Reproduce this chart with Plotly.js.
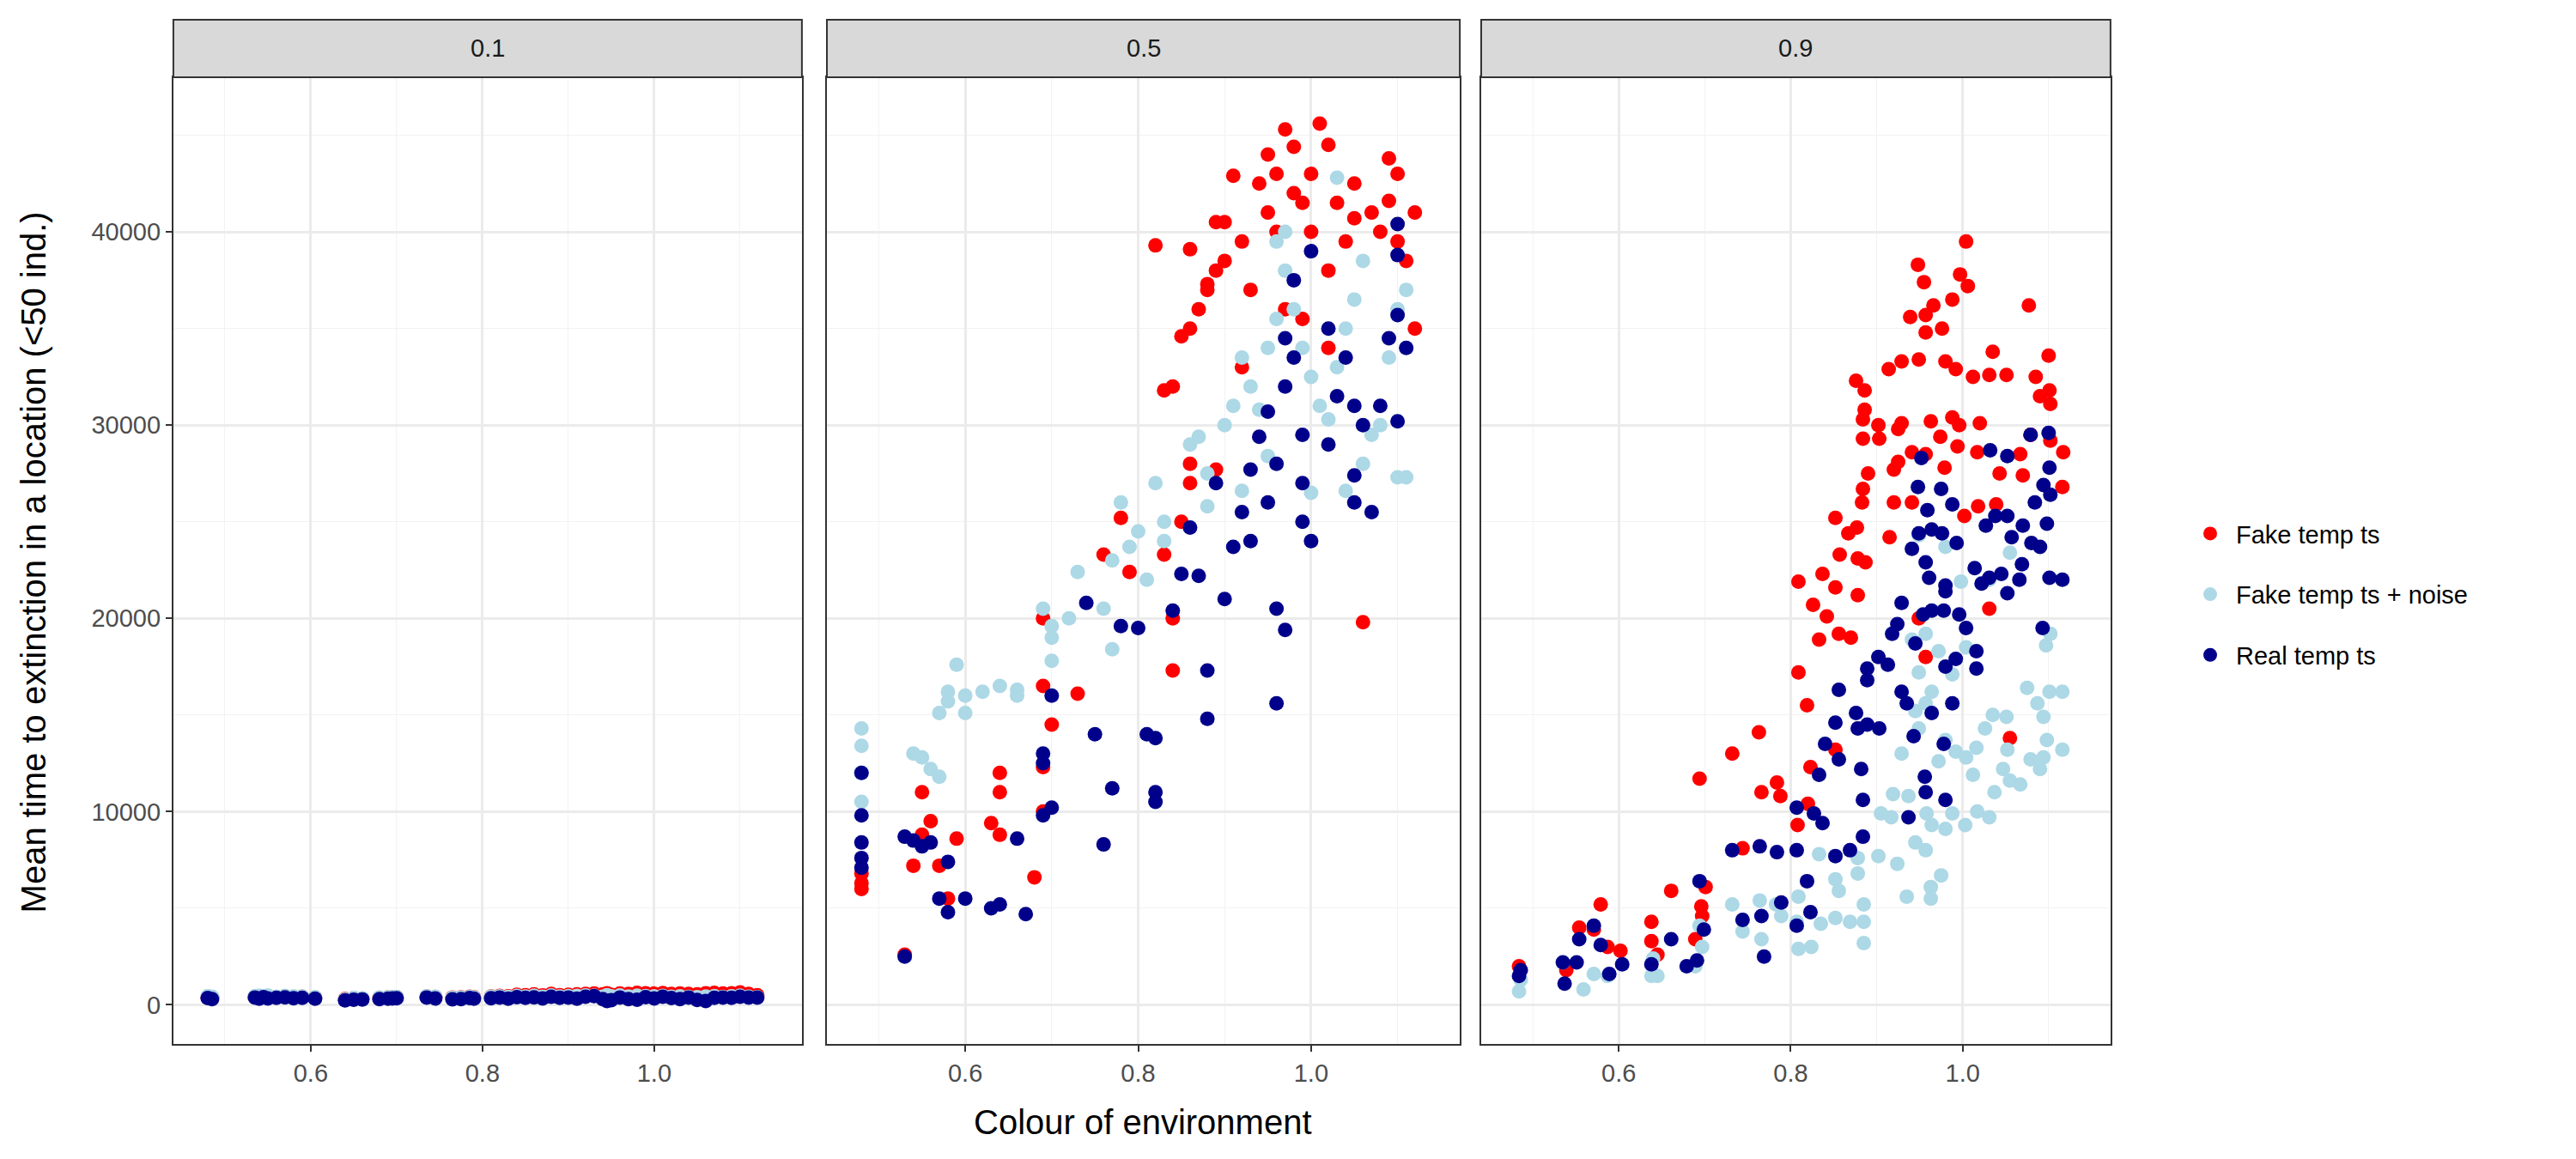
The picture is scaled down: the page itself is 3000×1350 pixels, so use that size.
<!DOCTYPE html>
<html>
<head>
<meta charset="utf-8">
<script src="https://cdn.plot.ly/plotly-3.0.1.min.js"></script>
<style>html,body{margin:0;padding:0;background:#fff}</style>
</head>
<body>
<div id="chart" style="width:3000px;height:1350px"></div>
<script>
// facet labels and series names
const panels = ["0.1", "0.5", "0.9"];
const seriesNames = ["Fake temp ts", "Fake temp ts + noise", "Real temp ts"];
const seriesColors = ["#ff0000", "#add8e6", "#00008b"];

// panel 0.1 : everything sits just above zero
const x01 = [0.48,0.485,0.535,0.54,0.545,0.55,0.56,0.57,0.58,0.59,0.605,0.64,0.65,0.66,0.68,0.69,0.695,0.7,0.735,0.745,0.765,0.775,0.785,0.79,0.81,0.82,0.83,0.84,0.85,0.86,0.87,0.88,0.89,0.9,0.91,0.92,0.93,0.94,0.945,0.95,0.96,0.97,0.98,0.99,1.0,1.01,1.02,1.03,1.04,1.05,1.06,1.07,1.08,1.09,1.1,1.11,1.12];
const fake01 = [380,400,420,430,410,440,400,430,410,420,380,300,340,320,360,390,380,400,430,410,380,390,420,400,430,460,440,520,500,540,480,560,500,520,540,560,580,540,600,520,590,560,620,600,580,610,560,590,560,540,600,620,580,600,640,560,500];
const noise01 = [450,420,450,470,430,480,420,460,440,430,400,280,360,340,380,400,390,410,440,420,360,380,410,390,420,440,410,460,430,470,420,480,430,450,460,480,470,420,500,440,480,430,470,450,440,460,420,440,410,400,430,450,410,440,470,420,400];
const real01 = [350,300,380,320,400,330,360,390,340,360,320,230,260,280,300,320,330,340,380,330,290,300,350,320,340,380,320,400,360,390,330,420,360,380,320,420,450,300,200,240,380,300,260,400,330,420,350,300,380,250,200,360,380,360,420,380,380];

// panel 0.5
const xFake05 = [0.48,0.48,0.48,0.53,0.54,0.55,0.55,0.56,0.57,0.58,0.59,0.63,0.64,0.64,0.64,0.68,0.69,0.69,0.69,0.7,0.69,0.73,0.76,0.78,0.79,0.84,0.84,0.83,0.85,0.86,0.86,0.89,0.82,0.86,0.83,0.84,0.85,0.86,0.87,0.88,0.88,0.89,0.9,0.89,0.9,0.91,0.92,0.94,0.95,0.96,0.97,0.95,0.96,0.98,0.98,0.99,1.0,1.01,1.02,1.0,1.02,1.03,1.04,1.05,1.05,1.07,1.08,1.09,1.09,1.1,1.11,1.12,1.1,1.12,1.06,0.93,0.97,0.92,0.99,1.02];
const yFake05 = [6000,6300,6800,2600,7200,8800,11000,9500,7200,5500,8600,9400,12000,11000,8800,6600,12300,10000,16500,14500,20000,16100,23300,25200,22400,17300,20000,23300,25000,28000,27000,27700,39300,39100,31800,32000,34600,35000,36000,37300,37000,38000,38500,40500,40500,42900,39500,42500,44000,43000,45300,41000,40000,44400,42000,41500,43000,45600,44500,40000,38000,41500,39500,40700,42500,41000,40000,41600,43800,43000,38500,41000,39500,35000,19800,37000,36000,33000,35500,34000];
const xNoise05 = [0.48,0.48,0.48,0.48,0.54,0.55,0.56,0.57,0.57,0.58,0.58,0.59,0.6,0.6,0.62,0.64,0.66,0.66,0.7,0.7,0.7,0.69,0.73,0.72,0.77,0.76,0.78,0.77,0.79,0.8,0.81,0.82,0.83,0.83,0.86,0.87,0.88,0.88,0.9,0.91,0.92,0.93,0.94,0.95,0.96,0.97,0.98,0.96,0.97,0.99,1.0,1.01,1.02,1.03,1.04,1.05,1.06,1.07,1.08,1.09,1.1,1.11,1.1,1.11,1.03,1.06,0.92,0.95,1.0,1.04];
const yNoise05 = [14300,13400,10500,12000,13000,12800,12200,11800,15100,15700,16200,17600,16000,15100,16200,16500,16000,16300,19600,19000,17800,20500,22400,20000,18400,20500,26000,23000,23700,24500,22000,27000,24000,25000,29000,29400,27500,25800,30000,31000,33500,32000,30800,34000,35500,38000,36000,39500,40000,34000,32500,31000,30300,33000,35000,36500,28000,29500,30000,33500,36000,37000,27300,27300,42800,38500,26600,28400,26500,26600];
const xReal05 = [0.48,0.48,0.48,0.48,0.48,0.53,0.53,0.54,0.55,0.56,0.57,0.58,0.58,0.6,0.63,0.64,0.66,0.67,0.69,0.69,0.7,0.69,0.7,0.75,0.76,0.77,0.74,0.78,0.8,0.81,0.82,0.82,0.82,0.84,0.85,0.86,0.87,0.88,0.88,0.9,0.89,0.91,0.92,0.93,0.93,0.94,0.95,0.95,0.96,0.96,0.96,0.97,0.97,0.98,0.99,0.99,1.0,0.97,1.02,1.03,1.04,1.05,1.05,1.06,1.07,1.08,1.09,1.1,1.1,1.11,1.1,1.1,1.0,1.02,0.98,0.99,1.05];
const yReal05 = [12000,9800,8400,7600,7100,2500,8700,8500,8200,8400,5500,7400,4800,5500,5000,5200,8600,4700,9800,12500,10200,13000,16000,14000,8300,11200,20800,19600,19500,14000,11000,10500,13800,20400,22300,24700,22200,17300,14800,21000,27000,23700,25500,27700,24000,29400,30700,26000,28000,20500,15600,32000,34500,33500,27000,25000,24000,19400,29000,31500,33500,27400,26000,30000,25500,31000,34500,35700,30200,34000,40400,38800,39000,35000,37500,29500,31000];

// panel 0.9
const xFake09 = [1.004,0.948,0.955,0.997,1.006,1.077,0.939,0.957,0.988,0.966,0.957,0.976,0.914,0.929,0.949,0.98,0.992,1.012,1.031,1.051,1.035,1.1,1.085,1.101,1.102,1.09,0.876,0.886,0.886,0.884,0.902,0.925,0.929,0.963,0.988,0.996,1.02,0.974,0.994,1.017,1.043,1.067,1.102,1.117,1.116,1.07,1.079,0.884,0.903,0.92,0.925,0.941,0.957,0.979,0.89,0.884,0.883,0.92,0.941,1.002,1.018,1.039,0.915,0.852,0.867,0.877,0.857,0.878,0.887,0.878,0.852,0.809,0.837,0.826,0.842,0.856,0.87,0.833,0.809,0.819,0.763,0.732,0.694,0.784,0.766,0.788,0.823,0.82,0.808,0.744,0.852,1.055,0.949,0.957,1.031,0.579,0.554,0.571,0.638,0.661,0.701,0.696,0.638,0.602,0.484,0.539,0.697,0.689,0.587,0.645];
const yFake09 = [39500,38300,37400,37800,37200,36200,35600,35700,36500,36200,34800,35000,32900,33300,33400,33300,32900,32500,32600,32600,33800,33600,32500,31800,31100,31500,32300,31800,30800,30300,30000,29800,30100,30200,30400,30000,30100,29400,28900,28600,27500,28500,29200,28600,26800,27400,29500,29300,29300,27700,28100,28600,28500,27800,27500,26700,26000,26000,26000,25300,25800,25900,24200,25200,24400,24700,23300,23100,22900,21200,21600,21900,22300,20700,20100,19200,19000,18900,17200,15500,14100,13000,11700,11500,11000,10800,12300,10400,9300,8100,13200,13800,20000,18000,20500,5200,4000,3900,4300,5900,6100,5100,3300,2800,2000,1800,4600,3400,3000,2600];
const xNoise09 = [0.484,0.486,0.535,0.559,0.571,0.587,0.638,0.645,0.64,0.689,0.697,0.694,0.732,0.744,0.764,0.766,0.783,0.789,0.809,0.809,0.824,0.807,0.835,0.833,0.852,0.856,0.852,0.869,0.885,0.885,0.885,0.878,0.878,0.902,0.924,0.919,0.935,0.945,0.957,0.963,0.963,0.975,0.958,0.964,0.98,0.988,1.003,1.017,1.031,0.992,1.004,1.012,1.016,1.026,1.035,1.051,1.052,1.047,1.055,1.067,1.079,1.09,1.094,1.098,1.094,1.101,1.116,1.075,1.087,1.097,1.102,1.116,1.037,0.949,0.929,0.945,0.957,0.964,0.949,0.941,0.957,0.972,0.988,1.004,0.949,0.98,1.055,0.998,1.031,0.917,0.905,0.937,0.972,0.98];
const yNoise09 = [700,1300,2200,800,1600,1500,1500,1500,2400,2000,3000,4100,5200,3800,5400,3400,5200,4600,5600,2900,3000,4300,4200,7800,6500,5900,4500,4300,5200,4300,3200,6800,7600,7700,7300,10900,5600,8400,8000,6100,5500,6700,9900,9300,9100,9900,9300,10000,9700,13100,12800,11900,13300,14300,15000,14900,13200,12200,11600,11400,12700,12200,12800,13700,14900,16200,16200,16400,15600,18600,19200,13200,11000,14300,13000,15200,15600,16200,17200,18900,19200,18300,17100,18500,24300,23700,23400,21900,22000,9700,9900,10800,12600,13700];
const xReal09 = [0.484,0.486,0.535,0.537,0.551,0.554,0.571,0.579,0.589,0.604,0.638,0.661,0.679,0.691,0.694,0.699,0.732,0.744,0.764,0.766,0.769,0.784,0.789,0.807,0.807,0.807,0.819,0.823,0.827,0.837,0.833,0.852,0.856,0.852,0.84,0.856,0.876,0.878,0.882,0.884,0.884,0.869,0.889,0.889,0.889,0.902,0.903,0.913,0.918,0.924,0.929,0.929,0.935,0.943,0.945,0.954,0.964,0.978,0.98,0.996,1.004,0.992,0.98,0.964,0.988,0.956,0.957,0.937,0.978,0.98,0.941,0.949,0.964,0.976,0.993,0.957,0.961,0.98,0.948,0.959,0.975,0.988,0.952,1.032,1.052,1.027,1.038,1.052,1.057,1.014,1.022,1.045,1.069,1.066,1.052,1.079,1.1,1.101,1.094,1.084,1.102,1.07,1.098,1.09,1.08,1.101,1.116,1.093,1.016,1.016,1.031];
const yReal09 = [1500,1800,2200,1100,2200,3400,4100,3100,1600,2100,2100,3400,2000,2300,6400,3900,8000,4400,8200,4600,2500,7900,5300,10200,8000,4100,6400,4800,9900,9400,11900,7700,16300,14600,13500,12700,15100,14300,12200,10600,8700,8000,14500,17400,16800,18000,14300,17600,19200,19700,20800,16200,15600,13900,18700,20200,20400,20400,21400,20200,19500,17900,17500,15100,15600,11800,11000,9700,13500,10600,23600,24400,24600,24400,23900,22900,22100,21700,26800,25600,26700,25900,28300,28700,28400,24800,25300,25300,24200,22600,21800,22300,22800,22000,21300,29500,29600,27800,26900,26000,26400,24800,24900,23700,23900,22100,22000,19500,18300,17400,22100];

const panelData = [
  [[x01, fake01], [x01, noise01], [x01, real01]],
  [[xFake05, yFake05], [xNoise05, yNoise05], [xReal05, yReal05]],
  [[xFake09, yFake09], [xNoise09, yNoise09], [xReal09, yReal09]]
];

const domains = [[0.0673, 0.3113], [0.321, 0.5667], [0.575, 0.8193]];
const yDom = [0.099, 0.9333];
const font = "Liberation Sans, Arial, sans-serif";

const traces = [];
panelData.forEach((series, p) => {
  series.forEach((s, k) => {
    traces.push({
      type: "scatter", mode: "markers",
      x: s[0], y: s[1],
      xaxis: p === 0 ? "x" : "x" + (p + 1),
      yaxis: p === 0 ? "y" : "y" + (p + 1),
      name: seriesNames[k],
      legendgroup: seriesNames[k],
      showlegend: p === 0,
      marker: { color: seriesColors[k], size: 17, line: { width: 0 } }
    });
  });
});

const layout = {
  width: 3000, height: 1350,
  margin: { l: 0, r: 0, t: 0, b: 0 },
  paper_bgcolor: "#fff", plot_bgcolor: "#fff",
  font: { family: font, color: "#4d4d4d", size: 29 },
  legend: {
    x: 0.848, y: 0.487, xanchor: "left", yanchor: "middle",
    font: { size: 29, color: "#000" }, tracegroupgap: 30, itemwidth: 50
  },
  shapes: [],
  annotations: [
    { text: "Colour of environment", xref: "paper", yref: "paper", x: 0.4438, y: 0.032, xanchor: "center", yanchor: "middle", showarrow: false, font: { size: 40, color: "#000" } },
    { text: "Mean time to extinction in a location (<50 ind.)", xref: "paper", yref: "paper", x: 0.013, y: 0.5145, textangle: -90, xanchor: "center", yanchor: "middle", showarrow: false, font: { size: 40, color: "#000" } }
  ]
};

domains.forEach((d, p) => {
  const sfx = p === 0 ? "" : String(p + 1);
  layout["xaxis" + sfx] = {
    domain: d, range: [0.44, 1.172], anchor: "y" + sfx,
    tickvals: [0.6, 0.8, 1.0], ticktext: ["0.6", "0.8", "1.0"],
    showgrid: true, gridcolor: "#ebebeb", gridwidth: 2.5,
    minor: { tickvals: [0.5, 0.7, 0.9, 1.1], showgrid: true, gridcolor: "#f2f2f2", gridwidth: 1.3, ticks: "" },
    ticks: "outside", ticklen: 7, tickwidth: 2, tickcolor: "#333",
    showline: true, mirror: true, linecolor: "#333", linewidth: 2,
    zeroline: false, tickfont: { size: 29, color: "#4d4d4d" }
  };
  layout["yaxis" + sfx] = {
    domain: yDom, range: [-2040, 48000], anchor: "x" + sfx,
    tickvals: [0, 10000, 20000, 30000, 40000],
    ticktext: ["0", "10000", "20000", "30000", "40000"],
    showticklabels: p === 0,
    showgrid: true, gridcolor: "#ebebeb", gridwidth: 2.5,
    minor: { tickvals: [5000, 15000, 25000, 35000, 45000], showgrid: true, gridcolor: "#f2f2f2", gridwidth: 1.3, ticks: "" },
    ticks: p === 0 ? "outside" : "", ticklen: 7, tickwidth: 2, tickcolor: "#333",
    showline: true, mirror: true, linecolor: "#333", linewidth: 2,
    zeroline: false, tickfont: { size: 29, color: "#4d4d4d" }
  };
  // facet strip
  layout.shapes.push({
    type: "rect", xref: "paper", yref: "paper",
    x0: d[0], x1: d[1], y0: yDom[1], y1: 0.983,
    fillcolor: "#d9d9d9", line: { color: "#333", width: 2 }
  });
  layout.annotations.push({
    text: panels[p], xref: "paper", yref: "paper",
    x: (d[0] + d[1]) / 2, y: (yDom[1] + 0.983) / 2,
    xanchor: "center", yanchor: "middle", showarrow: false,
    font: { size: 29, color: "#1a1a1a" }
  });
});

Plotly.newPlot("chart", traces, layout, { displayModeBar: false });
</script>
</body>
</html>
